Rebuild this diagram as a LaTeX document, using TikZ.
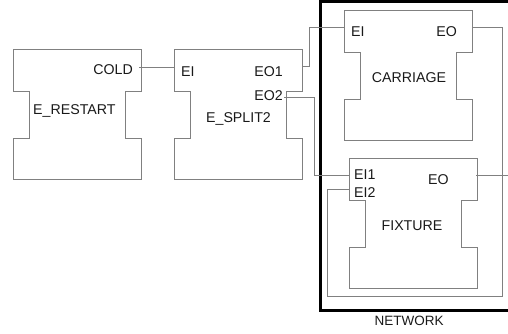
\documentclass[tikz,border=0pt]{standalone}
\usepackage{fontspec}
\setmainfont{Liberation Sans}
\begin{document}
\begin{tikzpicture}[x=1pt,y=-1pt,
  blockline/.style={draw=black!50,line width=0.9pt},
  wire/.style={draw=black!50,line width=0.9pt},
  netbox/.style={draw=black,line width=3pt},
  lbl/.style={inner sep=0pt,font=\fontsize{14.2}{17}\selectfont,text=black!90},
  lblw/.style={lbl,anchor=base west},
  lble/.style={lbl,anchor=base east},
  lblc/.style={lbl,anchor=base}]
\useasboundingbox (0,0) rectangle (508,333);
\clip (0,0) rectangle (508,333);
% block outline: #1 name, (#2,#3) top-left corner
\newcommand\fbshape[3]{%
  \coordinate (#1) at (#2,#3);
  \draw[blockline] (#2,#3) -- ++(128,0) -- ++(0,42) -- ++(-16,0) -- ++(0,47)
    -- ++(16,0) -- ++(0,41) -- ++(-128,0) -- ++(0,-41) -- ++(16,0)
    -- ++(0,-47) -- ++(-16,0) -- cycle;}
% network box
\draw[netbox] (320.7,1.8) rectangle (515,310);
\node[lblc,font=\fontsize{13.5}{16}\selectfont] (network) at (409,325.3) {NETWORK};
% blocks
\fbshape{restart}{13}{49}
\fbshape{split}{174}{49}
\fbshape{carriage}{344}{10}
\fbshape{fixture}{349}{158}
% labels
\node[lble] (cold) at (133,74.6) {COLD};
\node[lblw] (restartname) at (33,114.6) {E\_RESTART};
\node[lblw] (splitei) at (181,76.1) {EI};
\node[lble] (spliteo1) at (283,76.1) {EO1};
\node[lble] (spliteo2) at (283,100.1) {EO2};
\node[lblc] (splitname) at (238.5,122.6) {E\_SPLIT2};
\node[lblw] (carei) at (351,36.1) {EI};
\node[lble] (careo) at (457,36.1) {EO};
\node[lblc] (carname) at (409,82.1) {CARRIAGE};
\node[lblw] (fixei1) at (354,179.1) {EI1};
\node[lblw] (fixei2) at (354,197.1) {EI2};
\node[lblc] (fixeo) at (438.5,184.1) {EO};
\node[lblc] (fixname) at (412,230.6) {FIXTURE};
% ports
\coordinate (p-cold) at (139,67);
\coordinate (p-splitei) at (174,67);
\coordinate (p-eo1) at (302,66);
\coordinate (p-eo2) at (284,97);
\coordinate (p-carei) at (344,27);
\coordinate (p-careo) at (472,27);
\coordinate (p-fixei1) at (349,175);
\coordinate (p-fixei2) at (349,189);
\coordinate (p-fixeo) at (476,175);
\coordinate (p-netout) at (510,175);
% connectors
\draw[wire] (p-cold) -- (p-splitei);
\draw[wire] (p-eo1) -- (309,66) |- (p-carei);
\draw[wire] (p-eo2) -- (314,97) |- (p-fixei1);
\draw[wire] (p-careo) -- (502,27) -- (502,296) -- (327,296) |- (p-fixei2);
\draw[wire] (p-fixeo) -- (p-netout);
\end{tikzpicture}
\end{document}
